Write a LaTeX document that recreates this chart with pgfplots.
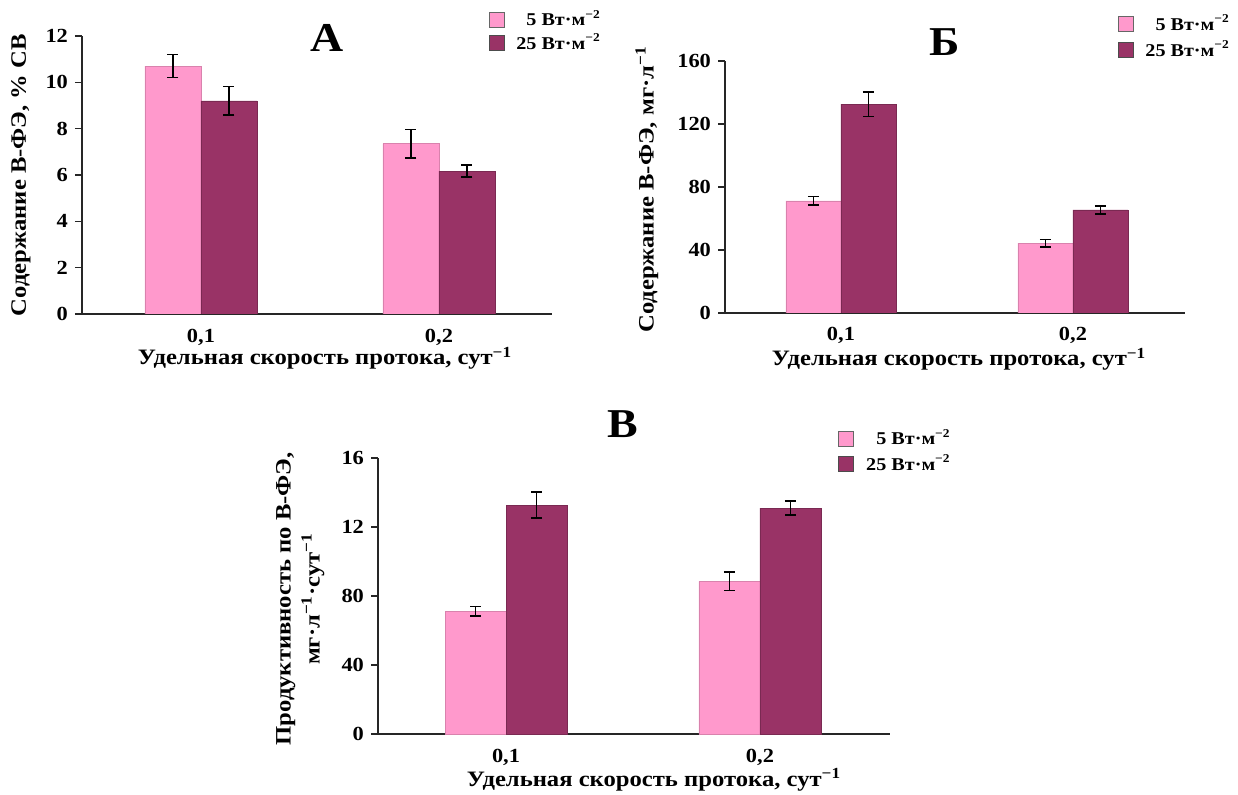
\documentclass[border=0pt]{standalone}
\usepackage{fontspec}
\setmainfont{Liberation Serif}[FakeStretch=1.12]
\usepackage{pgfplots}
\pgfplotsset{compat=1.18}
\definecolor{rose}{HTML}{FF99CC}
\definecolor{plum}{HTML}{993366}
\newcommand\tickfont{\bfseries\fontsize{10}{12}\selectfont}
\newcommand\labfont{\bfseries\fontsize{11}{14.5}\selectfont}
\newcommand\legfont{\bfseries\fontsize{9}{10.5}\selectfont}
\newcommand\letfont{\bfseries\fontsize{20.5}{24}\selectfont}
\newcommand\unit{Вт·м\textsuperscript{−2}}
\pgfplotsset{
  panel/.style={
    scale only axis, anchor=south west,
    ybar=0pt, ymin=0,
    axis lines=left, axis line style={-, line width=1pt, black!85},
    xtick={0,1}, xticklabels={{0,1},{0,2}},
    xtick style={draw=none},
    ytick style={line width=0.8pt, black!85},
    tick align=outside, major tick length=3.5pt,
    tick label style={font=\tickfont},
    /pgf/number format/assume math mode=true,
    xticklabel style={anchor=base, yshift=-10.5pt},
    every axis y label/.style={rotate=90, anchor=center, font=\labfont, align=center},
    every axis x label/.style={anchor=base, font=\labfont},
    legend cell align=right,
    legend style={draw=none, fill=none, anchor=north east, font=\legfont, inner sep=0pt, row sep=-1.5pt,
      /tikz/every even column/.append style={column sep=7pt}},
  },
  ebar/.style={error bars/.cd, y dir=both, y explicit,
    error bar style={line width=0.8pt, black},
    error mark options={rotate=90, mark size=2.75pt, line width=0.8pt, black}},
  rosebar/.style={fill=rose, draw=rose!85!black, line width=0.3pt,
    legend image code/.code={\draw[fill=rose, draw=black!60, line width=0.5pt] (0pt,-3.75pt) rectangle (7.5pt,3.75pt); \path (11.5pt,0pt);}, ebar},
  plumbar/.style={fill=plum, draw=plum!80!black, line width=0.3pt,
    legend image code/.code={\draw[fill=plum, draw=black!70, line width=0.5pt] (0pt,-3.75pt) rectangle (7.5pt,3.75pt); \path (11.5pt,0pt);}, ebar},
}
\begin{document}
\begin{tikzpicture}[x=1pt,y=1pt]
\path[use as bounding box] (0,0) rectangle (619,397);
% Panel A
\begin{axis}[panel, at={(41pt,240pt)}, width=235pt, height=139pt,
  xmin=-0.5, xmax=1.475, ymax=12, ytick={0,2,...,12}, bar width=28pt,
  ylabel={Содержание В-ФЭ, \% СВ},
  xlabel={Удельная скорость протока, сут\textsuperscript{−1}},
  ylabel style={at={(axis description cs:-0.130,0.5)}},
  xlabel style={at={(axis description cs:0.517,0)}, yshift=-25.5pt},
  legend style={at={(1.113,1.108)}}]
\addplot[rosebar] coordinates {(0,10.7) +- (0,0.5) (1,7.35) +- (0,0.62)};
\addplot[plumbar] coordinates {(0,9.2) +- (0,0.62) (1,6.17) +- (0,0.26)};
\addlegendentry{5 \unit}
\addlegendentry{25 \unit}
\end{axis}
% Panel B
\begin{axis}[panel, at={(362.5pt,240.5pt)}, width=230pt, height=126pt,
  xmin=-0.5, xmax=1.483, ymax=160, ytick={0,40,...,160}, bar width=27.5pt,
  ylabel={Содержание В-ФЭ, мг·л\textsuperscript{−1}},
  xlabel={Удельная скорость протока, сут\textsuperscript{−1}},
  ylabel style={at={(axis description cs:-0.170,0.49)}},
  xlabel style={at={(axis description cs:0.509,0)}, yshift=-26.5pt},
  legend style={at={(1.107,1.20)}, row sep=-0.5pt}]
\addplot[rosebar] coordinates {(0,71.2) +- (0,2.8) (1,44.3) +- (0,2.4)};
\addplot[plumbar] coordinates {(0,132.6) +- (0,7.9) (1,65.5) +- (0,2.5)};
\addlegendentry{5 \unit}
\addlegendentry{25 \unit}
\end{axis}
% Panel C
\begin{axis}[panel, at={(189pt,30pt)}, width=256pt, height=138pt,
  xmin=-0.504, xmax=1.512, ymax=16, ytick={0,4,...,16}, yticklabels={0,40,80,12,16}, bar width=30.5pt,
  ylabel={Продуктивность по В-ФЭ,\\ мг·л\textsuperscript{−1}·сут\textsuperscript{−1}},
  xlabel={Удельная скорость протока, сут\textsuperscript{−1}},
  ylabel style={at={(axis description cs:-0.152,0.49)}},
  xlabel style={at={(axis description cs:0.539,0)}, yshift=-26pt},
  legend style={at={(1.127,1.12)}, row sep=-0.5pt}]
\addplot[rosebar] coordinates {(0,7.12) +- (0,0.27) (1,8.85) +- (0,0.53)};
\addplot[plumbar] coordinates {(0,13.27) +- (0,0.76) (1,13.1) +- (0,0.41)};
\addlegendentry{5 \unit}
\addlegendentry{25 \unit}
\end{axis}
\node[font=\letfont] at (163.5,378) {А};
\node[font=\letfont] at (472.5,376) {Б};
\node[font=\letfont] at (311.5,185) {В};
\end{tikzpicture}
\end{document}
